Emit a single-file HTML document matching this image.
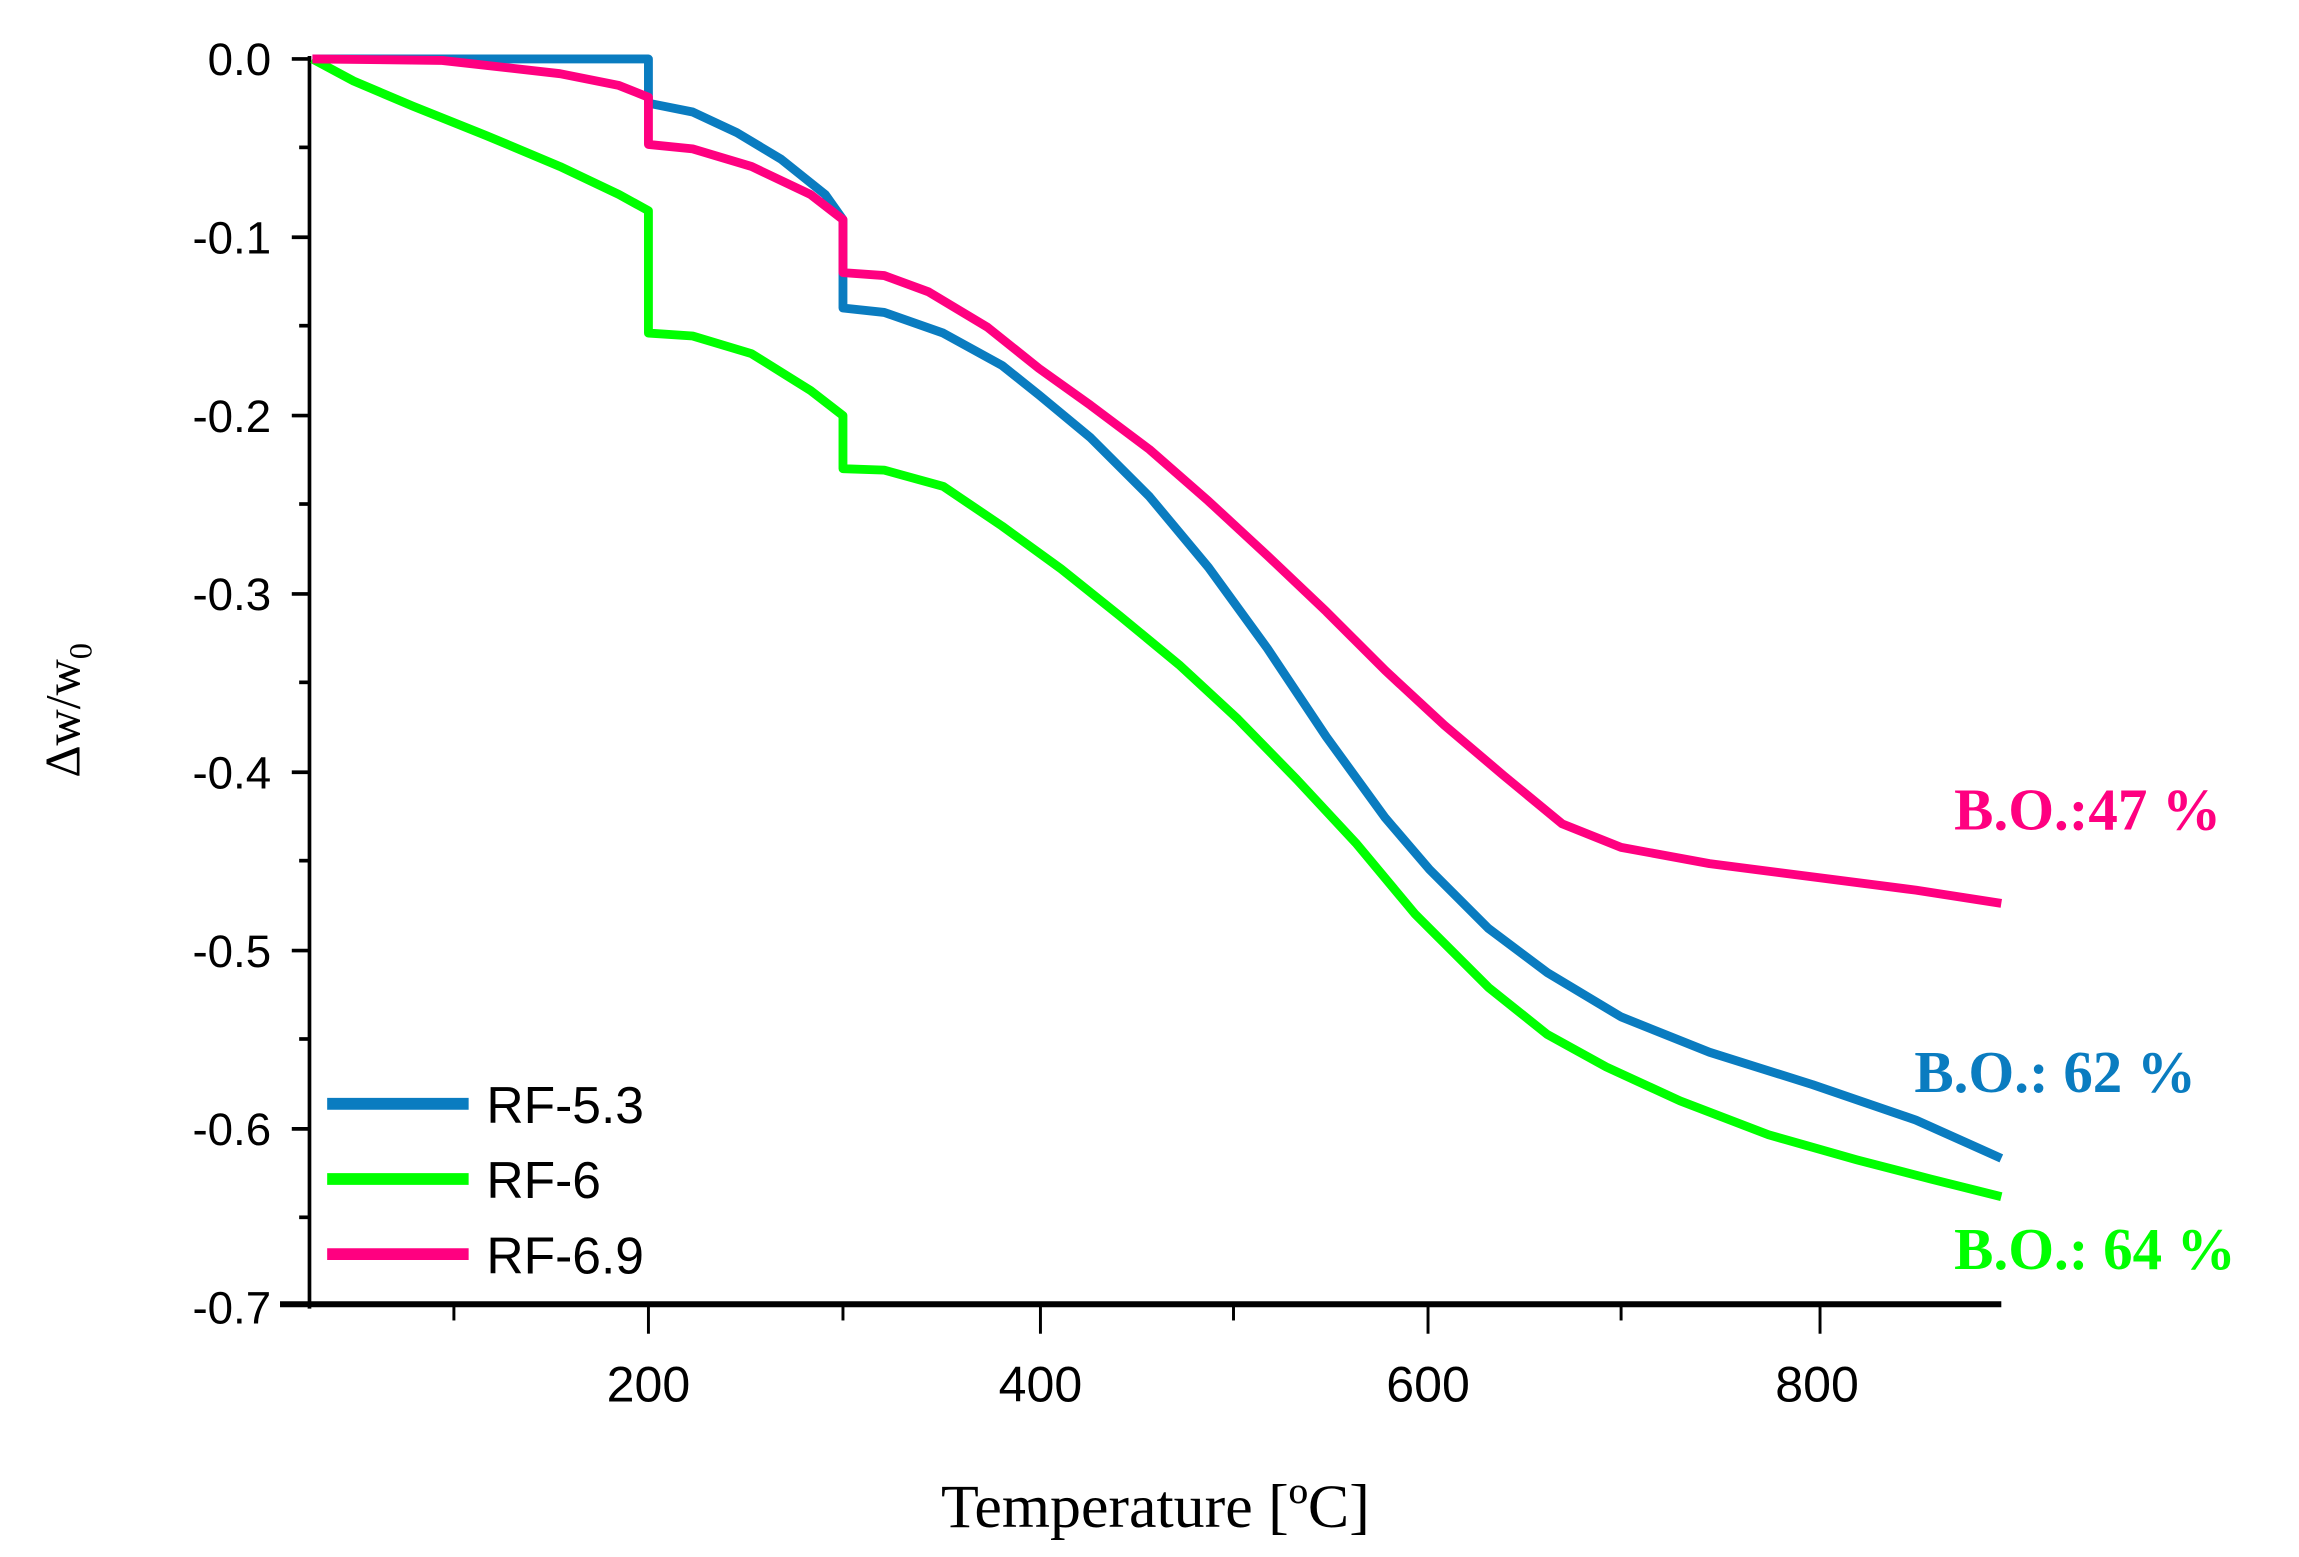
<!DOCTYPE html>
<html><head><meta charset="utf-8"><style>
html,body{margin:0;padding:0;background:#fff;}
svg{display:block;}
</style></head><body>
<svg width="2299" height="1557" viewBox="0 0 1560 1056.5" preserveAspectRatio="none" xmlns="http://www.w3.org/2000/svg">
<rect width="1560" height="1056.5" fill="#fff"/>
<g stroke="#000" fill="none">
<line x1="210" y1="38" x2="210" y2="888" stroke-width="2.5"/>
<line x1="190" y1="885" x2="1358" y2="885" stroke-width="4"/>
<g stroke-width="2.5">
<line x1="198" y1="40" x2="210" y2="40"/><line x1="198" y1="161" x2="210" y2="161"/>
<line x1="198" y1="282" x2="210" y2="282"/><line x1="198" y1="403" x2="210" y2="403"/>
<line x1="198" y1="524" x2="210" y2="524"/><line x1="198" y1="645" x2="210" y2="645"/>
<line x1="198" y1="766" x2="210" y2="766"/>
<line x1="203" y1="100" x2="210" y2="100"/><line x1="203" y1="221" x2="210" y2="221"/>
<line x1="203" y1="342" x2="210" y2="342"/><line x1="203" y1="463" x2="210" y2="463"/>
<line x1="203" y1="584" x2="210" y2="584"/><line x1="203" y1="705" x2="210" y2="705"/>
<line x1="203" y1="826" x2="210" y2="826"/>
</g>
<g stroke-width="2">
<line x1="440" y1="885" x2="440" y2="905"/><line x1="706" y1="885" x2="706" y2="905"/>
<line x1="969" y1="885" x2="969" y2="905"/><line x1="1235" y1="885" x2="1235" y2="905"/>
<line x1="308" y1="885" x2="308" y2="896"/><line x1="572" y1="885" x2="572" y2="896"/>
<line x1="837" y1="885" x2="837" y2="896"/><line x1="1100" y1="885" x2="1100" y2="896"/>
</g>
</g>
<g font-family="Liberation Sans, sans-serif" font-size="31" fill="#000" text-anchor="end">
<text x="184" y="51">0.0</text><text x="184" y="172">-0.1</text><text x="184" y="293">-0.2</text>
<text x="184" y="414">-0.3</text><text x="184" y="535">-0.4</text><text x="184" y="656">-0.5</text>
<text x="184" y="777">-0.6</text><text x="184" y="898">-0.7</text>
</g>
<g font-family="Liberation Sans, sans-serif" font-size="34" fill="#000" text-anchor="middle">
<text x="440" y="951">200</text><text x="706" y="951">400</text><text x="969" y="951">600</text><text x="1233" y="951">800</text>
</g>
<text x="784" y="1036" font-family="Liberation Serif, serif" font-size="42" text-anchor="middle">Temperature [ºC]</text>
<text transform="translate(54,482) rotate(-90)" font-family="Liberation Serif, serif" font-size="34" text-anchor="middle">Δw/w<tspan font-size="22" dy="8">0</tspan></text>
<g fill="none" stroke-width="6" stroke-linejoin="round">
<polyline stroke="#0a7cc0" points="212,40 440,40 440,70 470,76 500,90 530,108 560,132 572,149 572,209 600,212 640,226 680,248 705,268 740,297 780,337 820,385 860,440 900,500 940,555 970,590 1010,630 1050,660 1100,690 1160,714 1230,736 1300,760 1358,786"/>
<polyline stroke="#00ff00" points="212,40 240,55 280,72 330,92 380,113 420,132 440,143 440,226 470,228 510,240 550,265 572,282 572,318 600,319 640,330 680,357 720,386 760,418 800,451 840,488 880,529 920,572 960,620 970,630 1010,670 1050,702 1090,724 1140,747 1200,770 1260,787 1310,800 1358,812"/>
<polyline stroke="#ff0080" points="212,40 300,41 380,50 420,58 440,66 440,98 470,101 510,113 550,132 572,149 572,185 600,187 630,198 670,222 705,250 740,275 780,305 820,340 860,377 900,415 940,455 980,492 1020,526 1060,559 1100,575 1160,586 1230,595 1300,604 1358,613"/>
</g>
<g stroke-width="8">
<line x1="222" y1="749" x2="318" y2="749" stroke="#0a7cc0"/>
<line x1="222" y1="800" x2="318" y2="800" stroke="#00ff00"/>
<line x1="222" y1="851" x2="318" y2="851" stroke="#ff0080"/>
</g>
<g font-family="Liberation Sans, sans-serif" font-size="35" fill="#000">
<text x="330" y="762">RF-5.3</text><text x="330" y="813">RF-6</text><text x="330" y="864">RF-6.9</text>
</g>
<g font-family="Liberation Serif, serif" font-size="40" font-weight="bold">
<text x="1326" y="563" fill="#ff0080">B.O.:47 %</text>
<text x="1299" y="741" fill="#0a7cc0">B.O.: 62 %</text>
<text x="1326" y="861" fill="#00ff00">B.O.: 64 %</text>
</g>
</svg>
</body></html>
